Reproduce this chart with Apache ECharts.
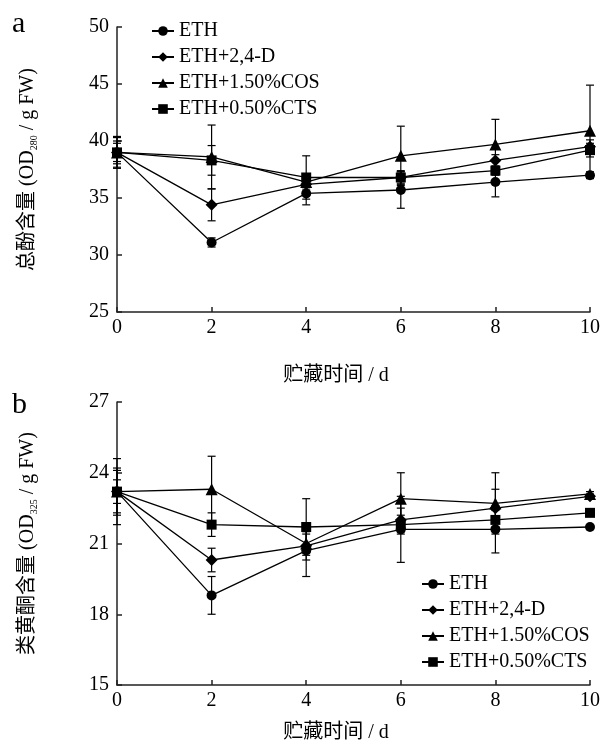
<!DOCTYPE html>
<html lang="zh" style="height: 100%">
<head>
<meta charset="utf-8">
<title>总酚与类黄酮含量</title>
</head>
<body style="height: 100%; margin: 0; background: #fff">
<div id="container" style="width: 603px; height: 749px"></div>

<script type="text/javascript" src="https://cdn.jsdelivr.net/npm/echarts@6/dist/echarts.min.js"></script>

<script type="text/javascript">
var dom = document.getElementById('container');
var myChart = echarts.init(dom, null, { renderer: 'canvas' });

// storage days
var days = [0, 2, 4, 6, 8, 10];
var seriesNames = ['ETH', 'ETH+2,4-D', 'ETH+1.50%COS', 'ETH+0.50%CTS'];
var symbols = ['circle', 'diamond', 'triangle', 'rect'];
var symbolSizes = [10, 12, 12, 10];

// panel a: total phenols (OD280 / g FW)
var phenolETH = [39.0, 31.1, 35.4, 35.7, 36.4, 37.0];
var phenolD = [39.0, 34.4, 36.2, 36.8, 38.3, 39.5];
var phenolCOS = [39.0, 38.6, 36.4, 38.7, 39.7, 40.9];
var phenolCTS = [39.0, 38.3, 36.8, 36.8, 37.4, 39.2];
var phenolETHErr = [1.4, 0.4, 1.0, 1.6, 1.3, 0.3];
var phenolDErr = [0.8, 1.4, 0.5, 0.6, 0.5, 0.6];
var phenolCOSErr = [1.0, 2.8, 0.5, 2.6, 2.2, 4.0];
var phenolCTSErr = [1.3, 1.3, 1.9, 0.5, 0.4, 0.6];

// panel b: flavonoids (OD325 / g FW)
var flavETH = [23.2, 18.8, 20.7, 21.6, 21.6, 21.7];
var flavD = [23.2, 20.3, 20.9, 22.0, 22.5, 23.0];
var flavCOS = [23.2, 23.3, 21.0, 22.9, 22.7, 23.1];
var flavCTS = [23.2, 21.8, 21.7, 21.8, 22.0, 22.3];
var flavETHErr = [1.0, 0.8, 1.1, 1.4, 1.0, 0.1];
var flavDErr = [0.5, 0.5, 0.6, 0.5, 0.8, 0.1];
var flavCOSErr = [1.4, 1.4, 0.4, 1.1, 1.3, 0.1];
var flavCTSErr = [0.9, 0.5, 1.2, 0.4, 0.4, 0.1];

var phenolValues = [phenolETH, phenolD, phenolCOS, phenolCTS];
var phenolErrors = [phenolETHErr, phenolDErr, phenolCOSErr, phenolCTSErr];
var flavValues = [flavETH, flavD, flavCOS, flavCTS];
var flavErrors = [flavETHErr, flavDErr, flavCOSErr, flavCTSErr];

var serif = 'Liberation Serif, "Noto Sans CJK SC", serif';

function errorBars(values, errors, gridIdx, name) {
    return {
        type: 'custom',
        name: name + ' err',
        xAxisIndex: gridIdx,
        yAxisIndex: gridIdx,
        z: 1,
        silent: true,
        data: days.map(function (d, i) {
            return [d, values[i] - errors[i], values[i] + errors[i]];
        }),
        renderItem: function (params, api) {
            var lo = api.coord([api.value(0), api.value(1)]);
            var hi = api.coord([api.value(0), api.value(2)]);
            var w = 4;
            var style = { stroke: '#000', lineWidth: 1.2 };
            return {
                type: 'group',
                children: [
                    { type: 'line', shape: { x1: lo[0], y1: lo[1], x2: hi[0], y2: hi[1] }, style: style },
                    { type: 'line', shape: { x1: lo[0] - w, y1: lo[1], x2: lo[0] + w, y2: lo[1] }, style: style },
                    { type: 'line', shape: { x1: hi[0] - w, y1: hi[1], x2: hi[0] + w, y2: hi[1] }, style: style }
                ]
            };
        }
    };
}

var series = [];
[[phenolValues, phenolErrors], [flavValues, flavErrors]].forEach(function (panel, g) {
    seriesNames.forEach(function (name, i) {
        series.push(errorBars(panel[0][i], panel[1][i], g, name));
        series.push({
            name: name,
            type: 'line',
            xAxisIndex: g,
            yAxisIndex: g,
            z: 3,
            symbol: symbols[i],
            symbolSize: symbolSizes[i],
            showAllSymbol: true,
            itemStyle: { color: '#000' },
            lineStyle: { color: '#000', width: 1.3 },
            data: days.map(function (d, k) { return [d, panel[0][i][k]]; })
        });
    });
});

function xAxis(gridIdx) {
    return {
        type: 'value', gridIndex: gridIdx, min: 0, max: 10, interval: 2,
        axisLine: { lineStyle: { color: '#222', width: 1.5 } },
        axisTick: { inside: true, length: 5, lineStyle: { color: '#222', width: 1.5 } },
        axisLabel: { color: '#000', fontFamily: serif, fontSize: 20, margin: 6 },
        splitLine: { show: false }
    };
}

function yAxis(gridIdx, min, max, interval, nameText) {
    return {
        type: 'value', gridIndex: gridIdx, min: min, max: max, interval: interval,
        name: nameText,
        nameLocation: 'middle',
        nameGap: 78,
        nameTextStyle: {
            color: '#000', fontFamily: serif, fontSize: 20, lineHeight: 22,
            rich: { sub: { fontSize: 10, fontFamily: serif, verticalAlign: 'bottom', lineHeight: 22, padding: [8, 0, 0, 0] } }
        },
        axisLine: { show: true, lineStyle: { color: '#222', width: 1.5 } },
        axisTick: { show: true, inside: true, length: 5, lineStyle: { color: '#222', width: 1.5 } },
        axisLabel: { color: '#000', fontFamily: serif, fontSize: 20, margin: 8 },
        splitLine: { show: false }
    };
}

function legend(left, top) {
    return {
        data: seriesNames,
        orient: 'vertical',
        left: left,
        top: top,
        itemWidth: 22,
        itemHeight: 12,
        itemGap: 6,
        selectedMode: false,
        textStyle: { color: '#000', fontFamily: serif, fontSize: 20, lineHeight: 20 }
    };
}

var option = {
    animation: false,
    grid: [
        { left: 117, right: 6, top: 27, height: 285 },
        { left: 117, right: 6, top: 402, height: 283 }
    ],
    xAxis: [xAxis(0), xAxis(1)],
    yAxis: [
        yAxis(0, 25, 50, 5, '总酚含量 (OD{sub|280} / g FW)'),
        yAxis(1, 15, 27, 3, '类黄酮含量 (OD{sub|325} / g FW)')
    ],
    legend: [legend(146, 16), legend(416, 569)],
    graphic: [
        { type: 'text', left: 12, top: 9, style: { text: 'a', font: '30px ' + serif, fill: '#000' } },
        { type: 'text', left: 12, top: 390, style: { text: 'b', font: '30px ' + serif, fill: '#000' } },
        { type: 'text', x: 336, y: 376, style: { text: '贮藏时间 / d', font: '20px ' + serif, fill: '#000', align: 'center', verticalAlign: 'middle' } },
        { type: 'text', x: 336, y: 733, style: { text: '贮藏时间 / d', font: '20px ' + serif, fill: '#000', align: 'center', verticalAlign: 'middle' } }
    ],
    series: series
};

myChart.setOption(option);
window.addEventListener('resize', myChart.resize);
</script>
</body>
</html>
